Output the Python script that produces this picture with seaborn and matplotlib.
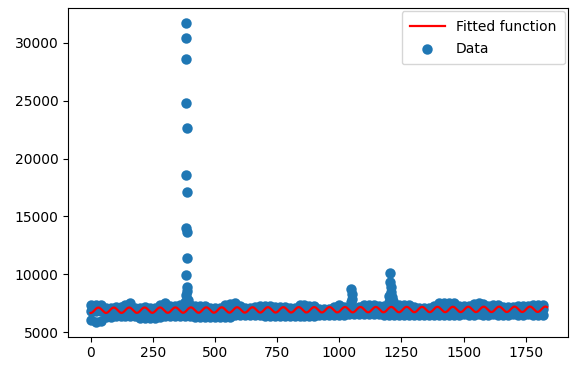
import numpy as np
import pandas as pd
import matplotlib
matplotlib.use("Agg")
import matplotlib.pyplot as plt
import seaborn as sns

# ---- data ----
band_days = list(range(0, 1840, 20))
band_upper = [7390, 7390, 7390, 7110, 7110, 7200, 7200, 7360, 7490, 7110,
              7110, 7160, 7110, 7110, 7360, 7490, 7250, 7250, 7360, 7460,
              7360, 7250, 7250, 7250, 7110, 7110, 7110, 7360, 7410, 7490,
              7260, 7110, 7110, 7160, 7250, 7250, 7250, 7200, 7200, 7200,
              7110, 7110, 7390, 7390, 7250, 7250, 7050, 7050, 7050, 7160,
              7390, 7210, 7110, 7110, 7160, 7390, 7390, 7390, 7250, 7250,
              7250, 7320, 7320, 7320, 7320, 7210, 7110, 7110, 7110, 7260,
              7490, 7490, 7490, 7490, 7250, 7250, 7250, 7460, 7570, 7460,
              7300, 7390, 7390, 7200, 7200, 7200, 7250, 7250, 7250, 7390,
              7390, 7390]
band_middle = [6850, 6800, 6880, 6820, 6850, 6900, 6870, 6830, 6900, 6850,
               6800, 6820, 6860, 6840, 6880, 6900, 6850, 6870, 6900, 6950,
               6880, 6850, 6830, 6820, 6860, 6800, 6840, 6880, 6900, 6920,
               6880, 6850, 6830, 6860, 6870, 6890, 6860, 6850, 6840, 6870,
               6830, 6850, 6900, 6910, 6880, 6860, 6880, 6900, 6920, 6940,
               6960, 6930, 6900, 6920, 6950, 6980, 6970, 6960, 6940, 6950,
               6930, 6960, 6950, 6970, 6940, 6920, 6900, 6910, 6930, 6960,
               7000, 6990, 6980, 6970, 6950, 6940, 6960, 6990, 7020, 6990,
               6960, 6980, 6990, 6940, 6930, 6950, 6960, 6970, 6950, 6980,
               6990, 6970]
band_lower = [6040, 5910, 5960, 6300, 6300, 6370, 6370, 6370, 6370, 6370,
              6240, 6240, 6250, 6240, 6340, 6370, 6370, 6370, 6370, 6370,
              6370, 6300, 6300, 6300, 6300, 6300, 6300, 6300, 6300, 6450,
              6450, 6450, 6450, 6450, 6450, 6420, 6370, 6370, 6370, 6370,
              6370, 6370, 6370, 6370, 6370, 6370, 6450, 6450, 6450, 6450,
              6490, 6520, 6590, 6590, 6590, 6590, 6590, 6590, 6590, 6490,
              6490, 6490, 6490, 6490, 6490, 6490, 6450, 6450, 6450, 6450,
              6450, 6450, 6450, 6520, 6490, 6540, 6490, 6520, 6540, 6490,
              6520, 6540, 6490, 6520, 6490, 6540, 6520, 6490, 6540, 6520,
              6490, 6520]
spike_days = [383, 384, 383, 384, 388, 383, 388, 383, 389, 388, 383, 386, 389, 385, 391, 380,
              1048, 1050, 1052, 1049,
              1203, 1205, 1207, 1210, 1212, 1200, 1215, 1198]
spike_values = [31660, 30370, 28550, 24760, 22600, 18570, 17130, 13970, 13680, 11390,
                9940, 8900, 8600, 8200, 7800, 7600,
                8710, 8300, 7900, 7600,
                10090, 9370, 8930, 8500, 8070, 8100, 7700, 7640]

# fitted sinusoid parameters
fit_offset = 6900
fit_slope = 0.05
fit_amplitude = 230
fit_period = 62
fit_phase = -1.5708
fit_last_day = 1836

x_ticks = [0, 250, 500, 750, 1000, 1250, 1500, 1750]
y_ticks = [5000, 10000, 15000, 20000, 25000, 30000]

# ---- build ----
assert len(band_upper) == len(band_days) == len(band_middle) == len(band_lower)
data = pd.DataFrame({
    "day": band_days * 3 + spike_days,
    "value": band_upper + band_middle + band_lower + spike_values,
})
fit_days = np.arange(0, fit_last_day + 1)
fit_values = (fit_offset + fit_slope * fit_days
              + fit_amplitude * np.sin(2 * np.pi * fit_days / fit_period + fit_phase))

fig = plt.figure(figsize=(5.71, 3.65), dpi=100)
ax = fig.add_axes([68.3 / 571, (365 - 336.7) / 365, (568 - 68.3) / 571, (336.7 - 8) / 365])

sns.scatterplot(data=data, x="day", y="value", ax=ax, color="#1f77b4", s=36,
                edgecolor="face", linewidth=1.5, label="Data", legend=False, zorder=2)
sns.lineplot(x=fit_days, y=fit_values, ax=ax, color="red", linewidth=1.6,
             estimator=None, sort=False, label="Fitted function", legend=False, zorder=3)

ax.set_xlim(-90, 1920)
ax.set_ylim(4620, 32990)
ax.set_xticks(x_ticks)
ax.set_yticks(y_ticks)
ax.set_xlabel("")
ax.set_ylabel("")

handles, labels = ax.get_legend_handles_labels()
order = [labels.index("Fitted function"), labels.index("Data")]
ax.legend([handles[i] for i in order], [labels[i] for i in order], loc="upper right",
          borderpad=0.6, labelspacing=0.6, handlelength=2.5, borderaxespad=0.25)

fig.savefig("out.png", dpi=100)
